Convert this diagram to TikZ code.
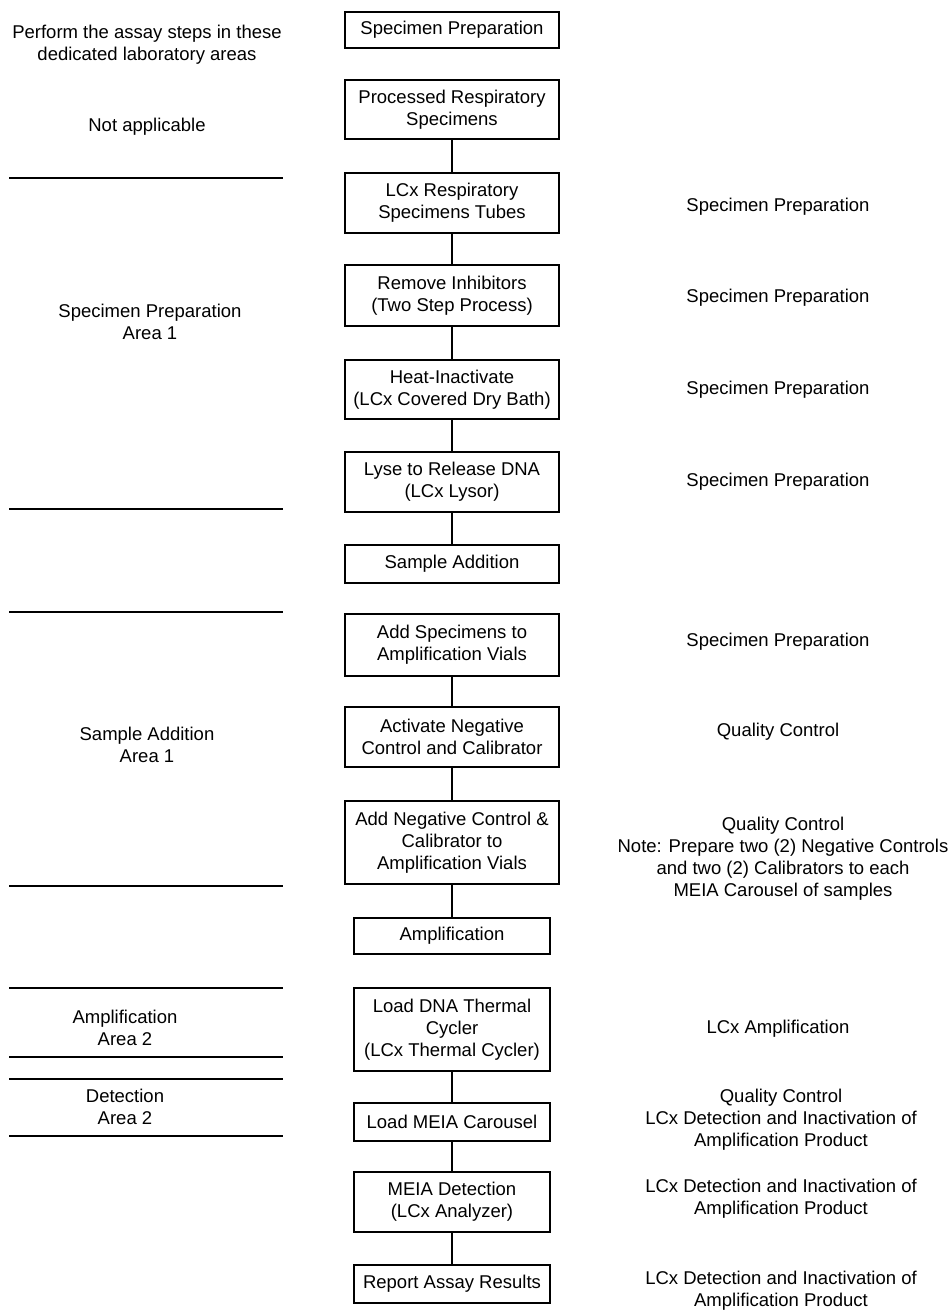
\documentclass[tikz,border=0pt]{standalone}
\usepackage{fontspec}
\setmainfont{Liberation Sans}
\usepackage{tikz}
\usetikzlibrary{shapes}

\begin{document}
\begin{tikzpicture}[x=1pt,y=-1pt,
        every node/.style={font=\fontsize{18.5}{22}\selectfont,inner sep=0pt,align=center},
        stage/.style={draw,line width=2pt,minimum width=214pt},
        narrowstage/.style={stage,minimum width=196pt},
        link/.style={line width=1.3pt},
        divider/.style={line width=2pt}]
        \useasboundingbox[fill=white] (0,0) rectangle (949,1310);

        \node[stage,minimum height=36pt] (prep) at (452,30) {Specimen Preparation};
        \node[stage,minimum height=59pt] (proc) at (452,109.5) {Processed Respiratory\\Specimens};
        \node[stage,minimum height=60pt] (tubes) at (452,203) {LCx Respiratory\\Specimens Tubes};
        \node[stage,minimum height=61pt] (inhib) at (452,295.5) {Remove Inhibitors\\(Two Step Process)};
        \node[stage,minimum height=59pt] (heat) at (452,389.5) {Heat-Inactivate\\(LCx Covered Dry Bath)};
        \node[stage,minimum height=60pt] (lyse) at (452,482) {Lyse to Release DNA\\(LCx Lysor)};
        \node[stage,minimum height=38pt] (sadd) at (452,564) {Sample Addition};
        \node[stage,minimum height=62pt] (addspec) at (452,645) {Add Specimens to\\Amplification Vials};
        \node[stage,minimum height=60pt] (activ) at (452,737) {Activate Negative\\Control and Calibrator};
        \node[stage,minimum height=83pt] (addneg) at (452,842.5) {Add Negative Control \&\\Calibrator to\\Amplification Vials};
        \node[narrowstage,minimum height=36pt] (amp) at (452,936) {Amplification};
        \node[narrowstage,minimum height=83pt] (cycler) at (452,1029.5) {Load DNA Thermal\\Cycler\\(LCx Thermal Cycler)};
        \node[narrowstage,minimum height=38pt] (carousel) at (452,1122) {Load MEIA Carousel};
        \node[narrowstage,minimum height=60pt] (detect) at (452,1202) {MEIA Detection\\(LCx Analyzer)};
        \node[narrowstage,minimum height=38pt] (report) at (452,1284) {Report Assay Results};

        \draw[link] (proc) -- (tubes);
        \draw[link] (tubes) -- (inhib);
        \draw[link] (inhib) -- (heat);
        \draw[link] (heat) -- (lyse);
        \draw[link] (lyse) -- (sadd);
        \draw[link] (addspec) -- (activ);
        \draw[link] (activ) -- (addneg);
        \draw[link] (addneg) -- (amp);
        \draw[link] (cycler) -- (carousel);
        \draw[link] (carousel) -- (detect);
        \draw[link] (detect) -- (report);

        \node (hdr) at (147,45) {Perform the assay steps in these\\dedicated laboratory areas};
        \node (na) at (147,127) {Not applicable};
        \node (areaprep) at (150,321.5) {Specimen Preparation\\Area 1};
        \node (areasadd) at (147,745) {Sample Addition\\Area 1};
        \node (areaamp) at (125,1027.5) {Amplification\\Area 2};
        \node (areadet) at (125,1107) {Detection\\Area 2};

        \draw[divider] (9,178) -- (283,178);
        \draw[divider] (9,509) -- (283,509);
        \draw[divider] (9,612) -- (283,612);
        \draw[divider] (9,886) -- (283,886);
        \draw[divider] (9,988) -- (283,988);
        \draw[divider] (9,1057) -- (283,1057);
        \draw[divider] (9,1079) -- (283,1079);
        \draw[divider] (9,1136) -- (283,1136);

        \node (rtubes) at (778,207) {Specimen Preparation};
        \node (rinhib) at (778,298) {Specimen Preparation};
        \node (rheat) at (778,390) {Specimen Preparation};
        \node (rlyse) at (778,482) {Specimen Preparation};
        \node (raddspec) at (778,642) {Specimen Preparation};
        \node (ractiv) at (778,732) {Quality Control};
        \node (raddneg) at (783,859) {Quality Control\\Note: Prepare two (2) Negative Controls\\and two (2) Calibrators to each\\MEIA Carousel of samples};
        \node (rcycler) at (778,1029) {LCx Amplification};
        \node (rcarousel) at (781,1120) {Quality Control\\LCx Detection and Inactivation of\\Amplification Product};
        \node (rdetect) at (781,1199) {LCx Detection and Inactivation of\\Amplification Product};
        \node (rreport) at (781,1291) {LCx Detection and Inactivation of\\Amplification Product};
    \end{tikzpicture}
\end{document}
